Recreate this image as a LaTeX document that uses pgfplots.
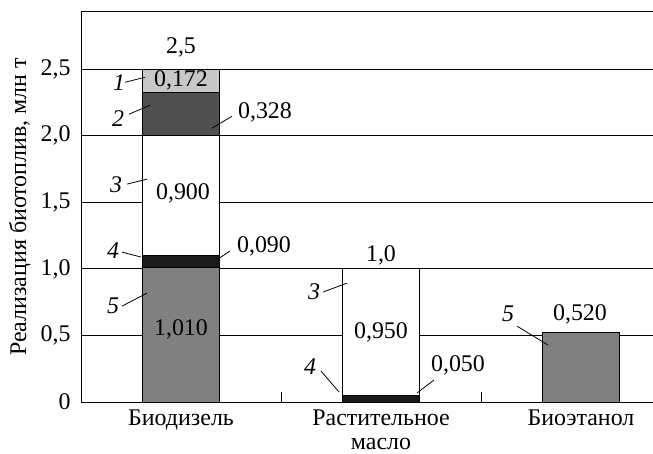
\documentclass[border=0pt]{standalone}
\usepackage{pgfplots}
\pgfplotsset{compat=1.18}
\usepackage{fontspec}
\setmainfont{Liberation Serif}

\definecolor{segOne}{HTML}{C8C8C8}
\definecolor{segTwo}{HTML}{505050}
\definecolor{segThree}{HTML}{FFFFFF}
\definecolor{segFour}{HTML}{1A1A1A}
\definecolor{segFive}{HTML}{808080}

\newcommand{\lblfont}{\fontsize{24}{24}\selectfont}

\begin{document}
\begin{tikzpicture}[font=\lblfont]
\begin{axis}[
  scale only axis,
  width=572bp, height=390bp,
  xmin=0, xmax=2.86,
  ymin=0, ymax=2.93,
  ybar stacked,
  bar width=0.385,
  axis x line=box,
  axis y line=left,
  axis line style={-, line width=1pt, black},
  xtick={0.5,1.5,2.5},
  xticklabels={Биодизель,{Растительное\\масло},Биоэтанол},
  xtick pos=left,
  major x tick style={draw=none},
  minor xtick={1,2},
  minor x tick style={line width=1pt, black},
  minor tick length=10bp,
  tick align=inside,
  ytick={0,0.5,1,1.5,2,2.5},
  yticklabels={0,{0,5},{1,0},{1,5},{2,0},{2,5}},
  ytick style={draw=none},
  ymajorgrids,
  grid style={line width=0.9pt, black},
  /pgf/number format/assume math mode=true,
  xticklabel style={align=center, font=\lblfont, yshift=-4bp},
  yticklabel style={font=\lblfont, anchor=east, xshift=-7bp},
  ylabel={Реализация биотоплив, млн т},
  every axis y label/.style={at={(rel axis cs:0,0.5)}, xshift=-61bp,
    rotate=90, anchor=center, font=\lblfont},
  every axis plot/.append style={draw=black, line width=1pt},
  clip=false,
]
% stacked from the bottom: 5, 4, 3, 2, 1
\addplot[fill=segFive] coordinates {(0.5,1.010) (1.5,0) (2.5,0.520)};
\addplot[fill=segFour] coordinates {(0.5,0.090) (1.5,0.050) (2.5,0)};
\addplot[fill=segThree] coordinates {(0.5,0.900) (1.5,0.950) (2.5,0)};
\addplot[fill=segTwo] coordinates {(0.5,0.328) (1.5,0) (2.5,0)};
\addplot[fill=segOne] coordinates {(0.5,0.172) (1.5,0) (2.5,0)};

% anchor points for the annotations (drawn over the bars below)
\coordinate (tA) at (axis cs:0.5,2.665);
\coordinate (vOne) at (axis cs:0.5,2.414);
\coordinate (vThree) at (axis cs:0.51,1.569);
\coordinate (vFive) at (axis cs:0.5,0.548);
\coordinate (vTwo) at (axis cs:0.92,2.177);
\coordinate (vFour) at (axis cs:0.915,1.171);
\coordinate (tB) at (axis cs:1.5,1.104);
\coordinate (wThree) at (axis cs:1.5,0.526);
\coordinate (wFour) at (axis cs:1.885,0.278);
\coordinate (tC) at (axis cs:2.495,0.66);
\coordinate (lTwoA) at (axis cs:0.655,2.057);
\coordinate (lTwoB) at (axis cs:0.755,2.147);
\coordinate (lFourA) at (axis cs:0.685,1.074);
\coordinate (lFourB) at (axis cs:0.745,1.134);
\coordinate (mFourA) at (axis cs:1.68,0.068);
\coordinate (mFourB) at (axis cs:1.765,0.165);

\coordinate (nA1) at (axis cs:0.19,2.402);
\coordinate (pA1) at (axis cs:0.22,2.402);
\coordinate (qA1) at (axis cs:0.32,2.44);
\coordinate (nA2) at (axis cs:0.185,2.132);
\coordinate (pA2) at (axis cs:0.24,2.162);
\coordinate (qA2) at (axis cs:0.345,2.23);
\coordinate (nA3) at (axis cs:0.175,1.63);
\coordinate (pA3) at (axis cs:0.23,1.637);
\coordinate (qA3) at (axis cs:0.33,1.674);
\coordinate (nA4) at (axis cs:0.16,1.134);
\coordinate (pA4) at (axis cs:0.205,1.126);
\coordinate (qA4) at (axis cs:0.30,1.089);
\coordinate (nA5) at (axis cs:0.16,0.72);
\coordinate (pA5) at (axis cs:0.205,0.72);
\coordinate (qA5) at (axis cs:0.33,0.818);
\coordinate (nB3) at (axis cs:1.165,0.826);
\coordinate (pB3) at (axis cs:1.21,0.826);
\coordinate (qB3) at (axis cs:1.33,0.893);
\coordinate (nB4) at (axis cs:1.145,0.263);
\coordinate (pB4) at (axis cs:1.2,0.233);
\coordinate (qB4) at (axis cs:1.29,0.075);
\coordinate (nC5) at (axis cs:2.135,0.66);
\coordinate (pC5) at (axis cs:2.18,0.57);
\coordinate (qC5) at (axis cs:2.335,0.428);
\end{axis}

% values
\node at (tA) {2,5};
\node at (vOne) {0,172};
\node at (vThree) {0,900};
\node at (vFive) {1,010};
\node at (vTwo) {0,328};
\node at (vFour) {0,090};
\node at (tB) {1,0};
\node at (wThree) {0,950};
\node at (wFour) {0,050};
\node at (tC) {0,520};
\begin{scope}[line width=0.8pt]
\draw (lTwoA) -- (lTwoB);
\draw (lFourA) -- (lFourB);
\draw (mFourA) -- (mFourB);
\end{scope}

% segment numbers with leaders
\foreach \k/\t in {A1/1,A2/2,A3/3,A4/4,A5/5,B3/3,B4/4,C5/5}{
  \node at (n\k) {\textit{\t}};
  \draw[line width=0.8pt] (p\k) -- (q\k);
}

\pgfresetboundingbox
\path ([shift={(-81bp,-52bp)}]current axis.south west)
  rectangle ([shift={(0bp,12bp)}]current axis.north east);
\end{tikzpicture}
\end{document}
